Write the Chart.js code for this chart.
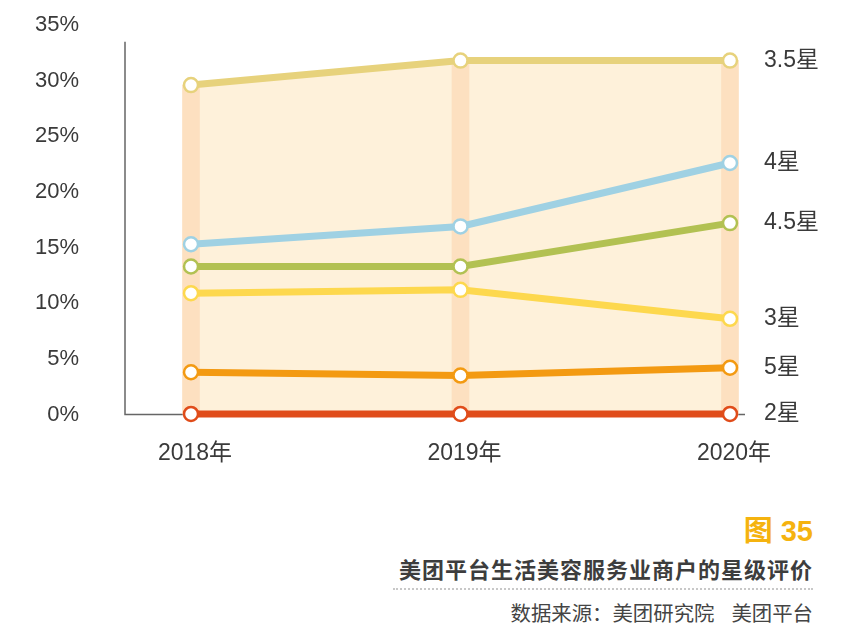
<!DOCTYPE html>
<html lang="zh">
<head>
<meta charset="UTF-8">
<title>美团平台生活美容服务业商户的星级评价</title>
<script src="https://cdn.jsdelivr.net/npm/chart.js"></script>
<style>
  body { margin: 0; background: #fff; font-family: "Liberation Sans", "Noto Sans CJK SC", sans-serif; }
  .wrap { position: relative; width: 864px; height: 639px; }
  canvas { position: absolute; left: 0; top: 0; }
  .fig { position: absolute; right: 51px; top: 507px; color: #f5b30f; font-weight: bold; font-size: 29px; }
  .title { position: absolute; right: 51px; top: 552px; color: #3d3d3d; font-weight: bold; font-size: 22px; letter-spacing: 1px; }
  .dots { position: absolute; left: 393px; width: 420px; top: 588px; border-top: 2px dotted #c8c8c8; }
  .src { position: absolute; right: 51px; top: 597px; color: #444; font-size: 20.4px; }
  .src span { margin-left: 17px; }
</style>
</head>
<body>
<div class="wrap">
  <canvas id="grafico" width="864" height="480"></canvas>
  <div class="fig">图 35</div>
  <div class="title">美团平台生活美容服务业商户的星级评价</div>
  <div class="dots"></div>
  <div class="src">数据来源：美团研究院<span>美团平台</span></div>
</div>
<script>
// datos (%)
const years = ['2018年', '2019年', '2020年'];
const yTicks = [0, 5, 10, 15, 20, 25, 30, 35];
const seriesNames = ['3.5星', '4星', '4.5星', '3星', '5星', '2星'];
const star35 = [29.6, 31.8, 31.8];
const star4 = [15.3, 16.9, 22.6];
const star45 = [13.3, 13.3, 17.2];
const star3 = [10.9, 11.2, 8.6];
const star5 = [3.8, 3.5, 4.2];
const star2 = [0.05, 0.05, 0.05];
const colores = ['#e7d27c', '#9fd1e3', '#b2c152', '#fdd84e', '#f39a12', '#e04c1a'];

const valores = [star35, star4, star45, star3, star5, star2];
const toPts = arr => arr.map((v, i) => ({ x: i, y: v }));
const fuente = '"Liberation Sans", "Noto Sans CJK SC", sans-serif';

const lineSets = valores.map((arr, k) => ({
    type: 'line',
    label: seriesNames[k],
    data: toPts(arr),
    borderColor: colores[k],
    borderWidth: 7,
    pointRadius: 7,
    pointBorderWidth: 2.5,
    pointBackgroundColor: '#fff',
    pointBorderColor: colores[k],
    fill: k === 0 ? { target: 'origin', above: '#fef1da' } : false,
    backgroundColor: k === 0 ? '#fef1da' : colores[k],
    clip: false,
    order: 1
}));

const barSet = {
    type: 'bar',
    label: 'columna',
    data: toPts(star35),
    backgroundColor: '#fde0c0',
    barThickness: 17,
    order: 5
};

// ejes dibujados a mano (la linea vertical no llega hasta 35%)
const ejes = {
    id: 'ejes',
    beforeDatasetsDraw(chart) {
        const { ctx, chartArea, scales } = chart;
        const y0 = scales.y.getPixelForValue(0);
        const yTop = scales.y.getPixelForValue(33.5);
        ctx.save();
        ctx.strokeStyle = '#666';
        ctx.lineWidth = 1.5;
        ctx.beginPath();
        ctx.moveTo(chartArea.left, yTop);
        ctx.lineTo(chartArea.left, y0);
        ctx.lineTo(chartArea.right, y0);
        ctx.stroke();
        ctx.restore();
    }
};

// etiquetas de cada serie a la derecha
const etiquetas = {
    id: 'etiquetas',
    afterDatasetsDraw(chart) {
        const { ctx } = chart;
        ctx.save();
        ctx.font = '23px ' + fuente;
        ctx.fillStyle = '#3a3a3a';
        ctx.textBaseline = 'middle';
        chart.data.datasets.forEach((ds, i) => {
            if (ds.type !== 'line') return;
            const pts = chart.getDatasetMeta(i).data;
            const p = pts[pts.length - 1];
            ctx.fillText(ds.label, 764, p.y);
        });
        ctx.restore();
    }
};

new Chart(document.getElementById('grafico'), {
    data: { datasets: [...lineSets, barSet] },
    options: {
        responsive: false,
        animation: false,
        layout: { padding: { top: 25, right: 119, left: 0, bottom: 0 } },
        plugins: {
            legend: { display: false },
            tooltip: { enabled: false },
            filler: { drawTime: 'beforeDatasetsDraw' }
        },
        scales: {
            x: {
                type: 'linear',
                offset: false,
                min: -66 / 269.5,
                max: 2 + 15 / 269.5,
                grid: { display: false, drawTicks: false },
                border: { display: false },
                afterBuildTicks: s => { s.ticks = years.map((_, i) => ({ value: i })); },
                afterFit: s => { s.height = 480 - 414.5; },
                ticks: {
                    padding: 25,
                    labelOffset: 4,
                    color: '#3a3a3a',
                    font: { size: 23, family: fuente },
                    callback: v => years[v]
                }
            },
            y: {
                min: 0,
                max: 35,
                grid: { display: false, drawTicks: false },
                border: { display: false },
                afterBuildTicks: s => { s.ticks = yTicks.map(v => ({ value: v })); },
                afterFit: s => { s.width = 125; s.paddingTop = 10; s.paddingBottom = 10; },
                ticks: {
                    padding: 46,
                    color: '#3a3a3a',
                    font: { size: 22, family: fuente },
                    callback: v => v + '%'
                }
            }
        }
    },
    plugins: [ejes, etiquetas]
});
</script>
</body>
</html>
